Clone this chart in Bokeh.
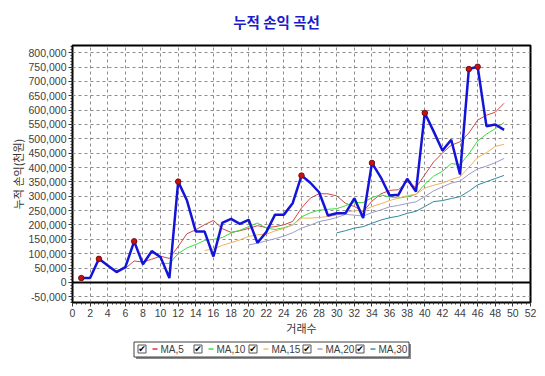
from bokeh.plotting import figure
from bokeh.layouts import column
from bokeh.models import Range1d, SingleIntervalTicker, NumeralTickFormatter, Span
from bokeh.core.properties import value
from bokeh.embed import file_html
from bokeh.resources import INLINE

# ---------------- data ----------------
trade_no = list(range(1, 50))
equity = [15000, 15000, 82000, 59000, 36000, 53000, 143000, 63000, 109000, 88000,
          15000, 351000, 285000, 177000, 177000, 90000, 207000, 221000, 204000, 218000,
          138000, 175000, 236000, 236000, 276000, 372000, 347000, 314000, 233000, 241000,
          241000, 293000, 224000, 416000, 366000, 303000, 305000, 361000, 316000, 590000,
          526000, 459000, 497000, 376000, 743000, 751000, 544000, 550000, 531000]
new_high_no = [1, 3, 7, 12, 26, 34, 40, 45, 46]

ma5 = [41400, 49000, 74600, 70800, 80800, 91200, 83600, 125200, 169600, 183200,
       201000, 216000, 187200, 174400, 179800, 188000, 197600, 191200, 194200, 200600,
       212200, 259000, 293400, 309000, 308400, 301400, 275200, 264400, 246400, 283000,
       308000, 320400, 322800, 350200, 330200, 375000, 419600, 450400, 477600, 489600,
       520200, 565200, 582200, 592800, 623800]
ma10 = [66300, 66300, 99900, 120200, 132000, 146100, 149800, 156200, 172000, 181500,
        194500, 206800, 189200, 184300, 190200, 200100, 228300, 242300, 251600, 254500,
        256800, 267100, 278900, 277700, 295700, 304700, 297800, 293600, 298300, 306600,
        341500, 370000, 386600, 413900, 409900, 447600, 492400, 516300, 535200, 556700]
ma15 = [111200, 116200, 129000, 138300, 147900, 160100, 165700, 167900, 179400, 187900,
        200400, 224200, 223900, 225900, 229600, 233900, 243900, 249700, 249900, 264000,
        273900, 284900, 293500, 301900, 307200, 328100, 338400, 345900, 358100, 367600,
        401100, 435100, 451800, 473500, 481200]
ma20 = [130400, 136600, 144600, 152300, 161100, 173100, 189100, 199300, 211800, 218000,
        225700, 237000, 234100, 231000, 243000, 252400, 263100, 268000, 275000, 280600,
        299200, 318600, 332800, 345800, 352800, 376200, 395100, 405000, 416800, 431700]
ma30 = [172500, 180100, 189300, 194100, 206000, 217000, 225300, 230700, 240600, 247500,
        264300, 281300, 284900, 292000, 298600, 317500, 339500, 350700, 361700, 372600]

ma_labels = ["MA,5", "MA,10", "MA,15", "MA,20", "MA,30"]
ma_periods = [5, 10, 15, 20, 30]
ma_values = [ma5, ma10, ma15, ma20, ma30]
ma_colors = ["#d04848", "#3cdc3c", "#f2b060", "#9c9cc8", "#2e8c9c"]
legend_colors = ["#e03050", "#40e040", "#f2c070", "#a0a0b8", "#3c90a8"]

title_text = "누적 손익 곡선"
x_title = "거래수"
y_title = "누적 손익(천원)"

W = 545
BL, BR = 72, 15
HEAD_H, MAIN_H, LEG_H = 40, 298, 38


def blank(h, y0, y1):
    # the column aligns this strip's frame with the main chart's frame (x from BL to W-BR)
    f = figure(width=W, height=h, output_backend="svg", toolbar_location=None,
               x_range=Range1d(BL, W - BR), y_range=Range1d(y1, y0),
               x_axis_type=None, y_axis_type=None, min_border=0,
               min_border_left=BL, min_border_right=BR, min_border_top=0, min_border_bottom=0)
    f.outline_line_color = None
    f.xgrid.visible = False
    f.ygrid.visible = False
    f.background_fill_color = "white"
    f.border_fill_color = "white"
    return f

# ---------------- title strip ----------------
head = blank(HEAD_H, 0, HEAD_H)
head.text(x=[276], y=[21], text=[title_text], text_font=value("Noto Sans CJK KR"),
          text_font_size="14.5px", text_font_style="bold", text_color="#1c1cc8",
          text_align="center", text_baseline="middle")

# ---------------- main chart ----------------
p = figure(width=W, height=MAIN_H, output_backend="svg", toolbar_location=None,
           x_range=Range1d(0, 52), y_range=Range1d(-70000, 825000),
           min_border_left=BL, min_border_right=BR, min_border_top=5, min_border_bottom=36)
p.background_fill_color = "white"
p.border_fill_color = "white"
p.outline_line_color = "black"
p.outline_line_width = 2

p.xaxis.ticker = SingleIntervalTicker(interval=2, num_minor_ticks=4)
p.yaxis.ticker = SingleIntervalTicker(interval=50000, num_minor_ticks=5)
p.yaxis.formatter = NumeralTickFormatter(format="0,0")
for ax in (p.xaxis, p.yaxis):
    ax.axis_line_color = "black"
    ax.major_tick_line_color = "#333333"
    ax.minor_tick_line_color = "#333333"
    ax.major_tick_in = 0
    ax.major_tick_out = 4
    ax.minor_tick_in = 0
    ax.minor_tick_out = 2
    ax.major_label_text_font = "Liberation Sans"
    ax.major_label_text_font_size = "10.5px"
    ax.major_label_text_color = "#404040"
    ax.axis_label_text_font = "Noto Sans CJK KR"
    ax.axis_label_text_font_size = "11px"
    ax.axis_label_text_font_style = "normal"
    ax.axis_label_text_color = "#333333"
    ax.axis_label_standoff = 0
    ax.major_label_standoff = 2
p.xaxis.axis_label = x_title
p.yaxis.axis_label = y_title

for g in (p.xgrid, p.ygrid):
    g.grid_line_color = "#8c8c8c"
    g.grid_line_dash = "3 3"
    g.grid_line_width = 1

p.add_layout(Span(location=0, dimension="width", line_color="black", line_width=2))

for per, vals, col in zip(ma_periods, ma_values, ma_colors):
    p.line(trade_no[per - 1:], vals, line_color=col, line_width=1)

p.line(trade_no, equity, line_color="#1414d8", line_width=2.5)
hx = new_high_no
hy = [equity[n - 1] for n in new_high_no]
p.scatter(hx, hy, marker="circle", size=5.5, fill_color="#cc1010", line_color="#701010", line_width=1)

# ---------------- legend strip (page pixel coordinates) ----------------
top0 = HEAD_H + MAIN_H
leg = blank(LEG_H, top0, top0 + LEG_H)
leg.quad(left=[135.5], right=[410.5], top=[343.5], bottom=[358.5], fill_color="#8a8a8a", line_color=None)
leg.quad(left=[133.5], right=[408.5], top=[341.5], bottom=[356.5], fill_color="white",
         line_color="#404040", line_width=1)
cb_x = [137, 193, 248, 302, 355]
leg.quad(left=[c + 0.5 for c in cb_x], right=[c + 8.5 for c in cb_x],
         top=[344.5] * 5, bottom=[352.5] * 5, fill_color="white", line_color="#555555", line_width=1)
leg.text(x=[c + 4.5 for c in cb_x], y=[348.5] * 5, text=["✔"] * 5,
         text_font=value("DejaVu Sans"), text_font_size="9px", text_font_style="bold",
         text_color="black", text_align="center", text_baseline="middle")
leg.segment(x0=[c + 15 for c in cb_x], x1=[c + 20 for c in cb_x], y0=[348.5] * 5, y1=[348.5] * 5,
            line_color=legend_colors, line_width=1.5)
leg.text(x=[c + 23 for c in cb_x], y=[349] * 5, text=ma_labels,
         text_font=value("Liberation Sans"), text_font_size="10px",
         text_color="#404040", text_align="left", text_baseline="middle")

layout = column(head, p, leg, spacing=0)
open("out.html", "w").write(file_html(layout, INLINE))
